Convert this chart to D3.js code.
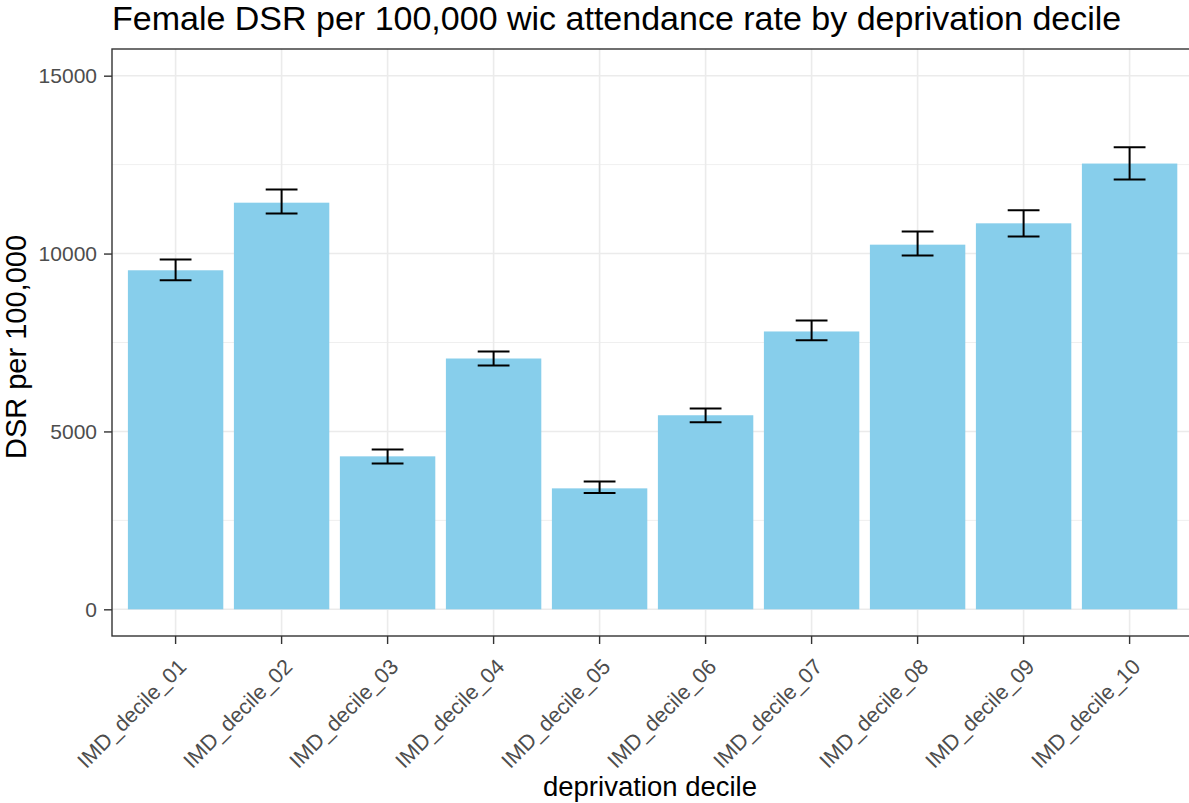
<!DOCTYPE html>
<html>
<head>
<meta charset="utf-8">
<script src="https://d3js.org/d3.v7.min.js"></script>
<style>
  body { margin: 0; background: #fff; }
  svg text { font-family: "Liberation Sans", Arial, sans-serif; }
</style>
</head>
<body>
<div id="chart"></div>
<script>
// data
var deciles = ["IMD_decile_01", "IMD_decile_02", "IMD_decile_03", "IMD_decile_04", "IMD_decile_05",
               "IMD_decile_06", "IMD_decile_07", "IMD_decile_08", "IMD_decile_09", "IMD_decile_10"];
var dsr   = [9530, 11430, 4300, 7050, 3400, 5455, 7810, 10250, 10850, 12530];
var lower = [9250, 11125, 4100, 6855, 3270, 5260, 7560, 9945, 10480, 12080];
var upper = [9830, 11800, 4495, 7245, 3590, 5645, 8115, 10620, 11215, 12985];
var yTicks = [0, 5000, 10000, 15000];
var yMinor = [2500, 7500, 12500];

var W = 1189, H = 803;
var panel = {left: 112, top: 49, bottom: 636};
var step = 106;
// x range spans 10 categories plus 0.6 expansion each side (runs off the right edge)
var panelRight = panel.left + step * (deciles.length + 0.2);

var svg = d3.select("#chart").append("svg")
    .attr("width", W)
    .attr("height", H);

var x = d3.scaleBand()
    .domain(deciles)
    .range([panel.left + 0.1 * step, panelRight - 0.1 * step])
    .paddingInner(0.1)
    .paddingOuter(0.05);

var y = d3.scaleLinear()
    .domain([-750, 15750])
    .range([panel.bottom, panel.top]);

var g = svg.append("g");

// grid
g.selectAll(".minor").data(yMinor).enter().append("line")
    .attr("x1", panel.left).attr("x2", panelRight)
    .attr("y1", function(d) { return y(d); }).attr("y2", function(d) { return y(d); })
    .attr("stroke", "#ebebeb").attr("stroke-width", 0.8);
g.selectAll(".major").data(yTicks).enter().append("line")
    .attr("x1", panel.left).attr("x2", panelRight)
    .attr("y1", function(d) { return y(d); }).attr("y2", function(d) { return y(d); })
    .attr("stroke", "#ebebeb").attr("stroke-width", 1.6);
g.selectAll(".vmajor").data(deciles).enter().append("line")
    .attr("x1", function(d) { return x(d) + x.bandwidth() / 2; })
    .attr("x2", function(d) { return x(d) + x.bandwidth() / 2; })
    .attr("y1", panel.top).attr("y2", panel.bottom)
    .attr("stroke", "#ebebeb").attr("stroke-width", 1.6);

// bars
g.selectAll(".bar").data(deciles).enter().append("rect")
    .attr("x", function(d) { return x(d); })
    .attr("width", x.bandwidth())
    .attr("y", function(d, i) { return y(dsr[i]); })
    .attr("height", function(d, i) { return y(0) - y(dsr[i]); })
    .attr("fill", "#87ceeb");

// error bars
var capW = step * 0.3;
var eb = g.selectAll(".err").data(deciles).enter().append("g")
    .attr("stroke", "#000").attr("stroke-width", 2);
eb.append("line")
    .attr("x1", function(d) { return x(d) + x.bandwidth() / 2; })
    .attr("x2", function(d) { return x(d) + x.bandwidth() / 2; })
    .attr("y1", function(d, i) { return y(lower[i]); })
    .attr("y2", function(d, i) { return y(upper[i]); });
eb.append("line")
    .attr("x1", function(d) { return x(d) + x.bandwidth() / 2 - capW / 2; })
    .attr("x2", function(d) { return x(d) + x.bandwidth() / 2 + capW / 2; })
    .attr("y1", function(d, i) { return y(lower[i]); })
    .attr("y2", function(d, i) { return y(lower[i]); });
eb.append("line")
    .attr("x1", function(d) { return x(d) + x.bandwidth() / 2 - capW / 2; })
    .attr("x2", function(d) { return x(d) + x.bandwidth() / 2 + capW / 2; })
    .attr("y1", function(d, i) { return y(upper[i]); })
    .attr("y2", function(d, i) { return y(upper[i]); });

// panel border
svg.append("rect")
    .attr("x", panel.left).attr("y", panel.top)
    .attr("width", panelRight - panel.left).attr("height", panel.bottom - panel.top)
    .attr("fill", "none").attr("stroke", "#333").attr("stroke-width", 1.4);

// y axis
var yAxis = svg.append("g")
    .attr("transform", "translate(" + panel.left + ",0)")
    .call(d3.axisLeft(y).tickValues(yTicks).tickSize(8).tickPadding(7).tickFormat(d3.format("d")));
yAxis.select(".domain").remove();
yAxis.selectAll(".tick line").attr("stroke", "#333").attr("stroke-width", 1.4);
yAxis.selectAll(".tick text").attr("fill", "#4d4d4d").style("font-size", "21px");

// x axis
var xAxis = svg.append("g")
    .attr("transform", "translate(0," + panel.bottom + ")")
    .call(d3.axisBottom(x).tickSize(8).tickPadding(4));
xAxis.select(".domain").remove();
xAxis.selectAll(".tick line").attr("stroke", "#333").attr("stroke-width", 1.4);
xAxis.selectAll(".tick text")
    .attr("fill", "#4d4d4d")
    .style("font-size", "21.5px")
    .attr("text-anchor", "end")
    .attr("x", 0).attr("y", 0).attr("dy", 0)
    .attr("transform", "translate(12,32) rotate(-45)");

// titles
svg.append("text")
    .attr("x", panel.left).attr("y", 30)
    .style("font-size", "34px")
    .attr("fill", "#000")
    .text("Female DSR per 100,000 wic attendance rate by deprivation decile");

svg.append("text")
    .attr("transform", "translate(26," + 347 + ") rotate(-90)")
    .attr("text-anchor", "middle")
    .style("font-size", "29px")
    .attr("fill", "#000")
    .text("DSR per 100,000");

svg.append("text")
    .attr("x", 650).attr("y", 796)
    .attr("text-anchor", "middle")
    .style("font-size", "27.5px")
    .attr("fill", "#000")
    .text("deprivation decile");
</script>
</body>
</html>
